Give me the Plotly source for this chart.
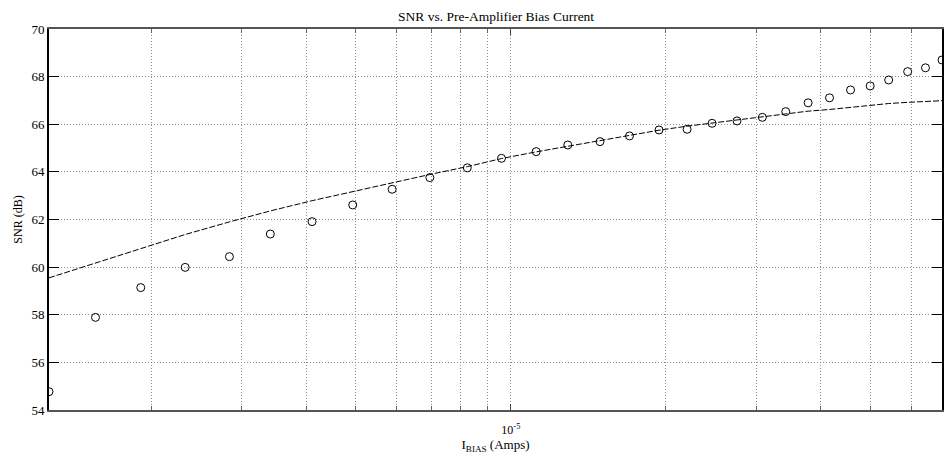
import numpy as np
import plotly.graph_objects as go

# Pre-amplifier bias current sweep (A)
bias_current = [
    1.267e-6, 1.56e-6, 1.91e-6, 2.33e-6, 2.84e-6, 3.41e-6, 4.11e-6, 4.93e-6,
    5.88e-6, 6.96e-6, 8.23e-6, 9.59e-6, 1.12e-5, 1.29e-5, 1.49e-5, 1.70e-5,
    1.94e-5, 2.20e-5, 2.46e-5, 2.75e-5, 3.08e-5, 3.42e-5, 3.78e-5, 4.16e-5,
    4.57e-5, 4.99e-5, 5.42e-5, 5.90e-5, 6.39e-5, 6.88e-5,
]

# Measured SNR (dB)
snr_measured = [
    54.77, 57.89, 59.14, 59.99, 60.44, 61.39, 61.91, 62.61,
    63.27, 63.76, 64.17, 64.57, 64.85, 65.13, 65.27, 65.51,
    65.76, 65.79, 66.04, 66.14, 66.29, 66.53, 66.90, 67.11,
    67.44, 67.61, 67.86, 68.21, 68.37, 68.70,
]

# Predicted SNR (dB)
snr_model = [
    59.55, 60.18, 60.80, 61.37, 61.90, 62.36, 62.79, 63.17,
    63.56, 63.89, 64.22, 64.56, 64.84, 65.07, 65.31, 65.53,
    65.75, 65.92, 66.05, 66.19, 66.32, 66.45, 66.55, 66.62,
    66.72, 66.81, 66.87, 66.92, 66.96, 66.99,
]

# Log-axis decade label and the in-between grid positions
x_major_vals = [1e-5]
x_major_text = ["10<sup>-5</sup>"]
x_minor_vals = [2e-6, 3e-6, 4e-6, 5e-6, 6e-6, 7e-6, 8e-6, 9e-6,
                2e-5, 3e-5, 4e-5, 5e-5, 6e-5]
y_ticks = [54, 56, 58, 60, 62, 64, 66, 68, 70]

serif = "Liberation Serif, Times New Roman, serif"
grid_dash = "1px,2px"
grid_color = "#8c8c8c"

fig = go.Figure()
fig.add_trace(go.Scatter(
    x=bias_current, y=snr_model, mode="lines",
    line=dict(color="black", width=1, dash="6px,2px"),
    showlegend=False, cliponaxis=True,
))
fig.add_trace(go.Scatter(
    x=bias_current, y=snr_measured, mode="markers",
    marker=dict(symbol="circle-open", size=8, color="black",
                line=dict(width=1, color="black")),
    showlegend=False, cliponaxis=True,
))

fig.update_layout(
    width=944, height=467,
    margin=dict(l=49, r=0, t=29, b=57),
    paper_bgcolor="white", plot_bgcolor="white",
    font=dict(family=serif, size=12, color="black"),
    title=dict(text="SNR vs. Pre-Amplifier Bias Current",
               x=0.5255, xanchor="center", y=0.975, yanchor="top",
               font=dict(family=serif, size=13.5, color="black")),
)

fig.update_xaxes(
    type="log",
    range=[np.log10(bias_current[0]), np.log10(bias_current[-1])],
    tickmode="array", tickvals=x_major_vals, ticktext=x_major_text,
    ticks="inside", ticklen=6, tickcolor="#444",
    ticklabelstandoff=8,
    showgrid=True, gridcolor=grid_color, griddash=grid_dash, gridwidth=1,
    minor=dict(tickmode="array", tickvals=x_minor_vals, ticks="inside",
               ticklen=4, tickcolor="#666", showgrid=True,
               gridcolor=grid_color, griddash=grid_dash, gridwidth=1),
    showline=True, linecolor="#555", linewidth=1.5, mirror="ticks",
    zeroline=False,
    tickfont=dict(family=serif, size=12, color="black"),
    title=dict(text="I<sub>BIAS</sub> (Amps)", standoff=4,
               font=dict(family=serif, size=13, color="black")),
)

fig.update_yaxes(
    range=[54, 70],
    tickmode="array", tickvals=y_ticks,
    ticks="inside", ticklen=10, tickcolor="black",
    showgrid=True, gridcolor=grid_color, griddash=grid_dash, gridwidth=1,
    showline=True, linecolor="black", linewidth=2, mirror="ticks",
    zeroline=False,
    tickfont=dict(family=serif, size=13, color="black"),
    title=dict(text="SNR (dB)", standoff=6,
               font=dict(family=serif, size=12, color="black")),
)

fig.write_html("out.html")
